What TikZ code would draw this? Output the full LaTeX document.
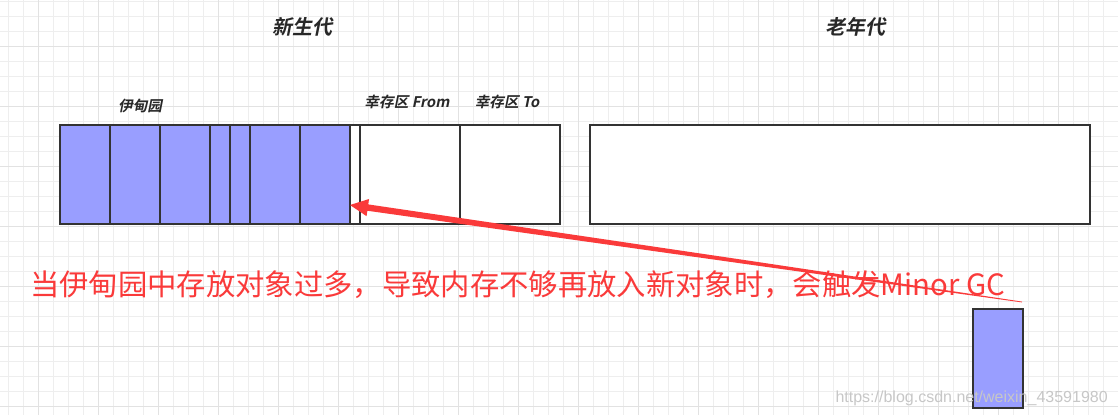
\documentclass[tikz,border=0pt]{standalone}
\usepackage{fontspec}
\usetikzlibrary{calc}
\newfontfamily\cjk{Noto Sans CJK SC}
\newfontfamily\cjkbi{Noto Sans CJK SC Bold}[FakeSlant=0.2]
\newfontfamily\wmfont{Liberation Sans}
\definecolor{gridminor}{RGB}{238,238,238}
\definecolor{gridmajor}{RGB}{226,226,226}
\definecolor{edenfill}{RGB}{153,158,255}
\definecolor{boxline}{RGB}{51,51,51}
\definecolor{arrowred}{RGB}{250,58,58}
\definecolor{labelgray}{RGB}{40,40,40}
\tikzset{
  cell/.style={draw=boxline, line width=1.5pt, inner sep=0pt, outer sep=0pt, anchor=north west},
  edencell/.style={cell, fill=edenfill},
  emptycell/.style={cell, fill=white},
  title/.style={font=\cjkbi\fontsize{15}{18}\selectfont, text=labelgray, inner sep=0pt},
  sublabel/.style={font=\cjkbi\fontsize{11}{13}\selectfont, text=labelgray, inner sep=0pt},
  note/.style={font=\cjk\fontsize{22}{26}\selectfont, text=arrowred, inner sep=0pt, anchor=west},
}
\begin{document}
\begin{tikzpicture}[x=0.75pt,y=-0.75pt]
\useasboundingbox (0,0) rectangle (1118,415);
\fill[white] (0,0) rectangle (1118,415);
% grid
\foreach \i in {0,...,74} {
  \draw[gridminor, line width=0.6pt] ({8.3+15*\i},0) -- ({8.3+15*\i},415);
}
\foreach \i in {0,...,27} {
  \draw[gridminor, line width=0.6pt] (0,{1.7+15*\i}) -- (1118,{1.7+15*\i});
}
\foreach \i in {0,...,18} {
  \draw[gridmajor, line width=0.8pt] ({38.3+60*\i},0) -- ({38.3+60*\i},415);
}
\foreach \i in {0,...,6} {
  \draw[gridmajor, line width=0.8pt] (0,{46.7+60*\i}) -- (1118,{46.7+60*\i});
}
% titles
\node[title] (young) at (302,27) {新生代};
\node[title] (oldt) at (855,27) {老年代};
\node[sublabel] (edenl) at (140,106) {伊甸园};
\node[sublabel] (froml) at (407,102) {幸存区 From};
\node[sublabel] (tol) at (507,102) {幸存区 To};
% eden cells
\node[edencell, minimum width=50*0.75pt, minimum height=99*0.75pt] (e1) at (60,125) {};
\node[edencell, minimum width=50*0.75pt, minimum height=99*0.75pt] (e2) at (110,125) {};
\node[edencell, minimum width=50*0.75pt, minimum height=99*0.75pt] (e3) at (160,125) {};
\node[edencell, minimum width=20*0.75pt, minimum height=99*0.75pt] (e4) at (210,125) {};
\node[edencell, minimum width=20*0.75pt, minimum height=99*0.75pt] (e5) at (230,125) {};
\node[edencell, minimum width=50*0.75pt, minimum height=99*0.75pt] (e6) at (250,125) {};
\node[edencell, minimum width=50*0.75pt, minimum height=99*0.75pt] (e7) at (300,125) {};
\node[emptycell, minimum width=10*0.75pt, minimum height=99*0.75pt] (gap) at (350,125) {};
\node[emptycell, minimum width=100*0.75pt, minimum height=99*0.75pt] (from) at (360,125) {};
\node[emptycell, minimum width=100*0.75pt, minimum height=99*0.75pt] (to) at (460,125) {};
% old generation
\node[emptycell, minimum width=500*0.75pt, minimum height=99*0.75pt] (old) at (590,125) {};
% new object
\node[edencell, minimum width=50*0.75pt, minimum height=99*0.75pt] (obj) at (973,309) {};
% note
\node[note] (notetext) at (30,285) {当伊甸园中存放对象过多，导致内存不够再放入新对象时，会触发Minor GC};
% arrow
\coordinate (tail) at (1022,302);
\coordinate (tip) at ($(e7.south east)+(0,-19)$);
\coordinate (base) at ($(tip)!13.5pt!(tail)$);
\coordinate (mid) at ($(tip)!0.6!(tail)$);
\fill[arrowred] (tip) -- ($(base)!6.5pt!90:(tail)$) -- ($(base)!2.4pt!90:(tail)$)
  -- ($(mid)!1.4pt!-90:(tip)$)
  -- ($(tail)!0.3pt!-90:(tip)$) -- ($(tail)!0.3pt!90:(tip)$)
  -- ($(mid)!1.4pt!90:(tip)$)
  -- ($(base)!2.4pt!-90:(tail)$) -- ($(base)!6.5pt!-90:(tail)$) -- cycle;
% watermark
\node[font=\wmfont\fontsize{12}{14}\selectfont, text=black!22, anchor=south east, inner sep=0pt] (wm) at (1108,406) {https://blog.csdn.net/weixin\_43591980};
\end{tikzpicture}
\end{document}
